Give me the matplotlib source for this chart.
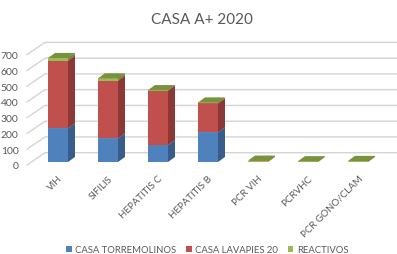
import matplotlib
matplotlib.use("Agg")
import matplotlib.pyplot as plt
from matplotlib.patches import Polygon, Patch

categories = ["VIH", "SIFILIS", "HEPATITIS C", "HEPATITIS B",
              "PCR VIH", "PCRVHC", "PCR GONO/CLAM"]
torremolinos = [214, 150, 108, 188, 0, 0, 0]
lavapies = [429, 366, 345, 184, 3, 1, 2]
reactivos = [17, 15, 3, 6, 6, 4, 5]

series_names = ["CASA TORREMOLINOS", "CASA LAVAPIES 20", "REACTIVOS"]
front_colors = ["#4F81BD", "#C0504D", "#9BBB59"]
side_colors = ["#385D8A", "#8C3836", "#71893F"]
top_colors = ["#6A93C9", "#CD6A67", "#77933C"]

plt.rcParams["font.family"] = ["Lato", "DejaVu Sans"]

fig = plt.figure(figsize=(3.97, 2.55), dpi=100)
# axes box: front plane from x=27px to the right edge, y=40px..170px from top
ax = fig.add_axes([27 / 397, 85 / 255, 370 / 397, 130 / 255])
ax.set_xlim(-0.62, 6.78)
ax.set_ylim(-25.4, 799.5)

# perspective offsets (data units)
wall_dx, wall_dy = 0.36, 78
bar_dx, bar_dy = 0.14, 32
bar_base = 19
half_w = 0.2

grid_color = "#D4D4D4"
for v in range(0, 701, 100):
    ax.plot([-0.62, -0.62 + wall_dx, 6.78], [v, v + wall_dy, v + wall_dy],
            color=grid_color, lw=1.0, zorder=1, clip_on=False)

series = [torremolinos, lavapies, reactivos]
for i in range(len(categories)):
    bottom = bar_base
    for s, vals in enumerate(series):
        h = vals[i]
        if h <= 0:
            continue
        y0, y1 = bottom, bottom + h
        x0, x1 = i - half_w, i + half_w
        ax.add_patch(Polygon([(x0, y0), (x1, y0), (x1, y1), (x0, y1)],
                             closed=True, fc=front_colors[s], ec="none", zorder=3))
        ax.add_patch(Polygon([(x1, y0), (x1 + bar_dx, y0 + bar_dy),
                              (x1 + bar_dx, y1 + bar_dy), (x1, y1)],
                             closed=True, fc=side_colors[s], ec="none", zorder=3))
        ax.add_patch(Polygon([(x0, y1), (x1, y1), (x1 + bar_dx, y1 + bar_dy),
                              (x0 + bar_dx, y1 + bar_dy)],
                             closed=True, fc=top_colors[s], ec="none", zorder=3))
        bottom = y1

for sp in ax.spines.values():
    sp.set_visible(False)

ax.set_yticks(range(0, 701, 100))
ax.tick_params(axis="y", length=0, pad=6, labelsize=7.5, labelcolor="#595959")
ax.set_xticks(range(len(categories)))
ax.set_xticklabels(categories, rotation=45, ha="right", rotation_mode="anchor",
                   fontsize=7, color="#595959")
ax.tick_params(axis="x", length=0, pad=3)

fig.text(0.508, 0.922, "CASA A+ 2020", ha="center", va="center",
         fontsize=11, color="#595959")

handles = [Patch(fc=c, ec="none") for c in front_colors]
fig.legend(handles, series_names, loc="center", bbox_to_anchor=(0.522, 0.018),
           ncol=3, frameon=False, fontsize=6.8, handlelength=0.6,
           handleheight=0.6, handletextpad=0.4, columnspacing=1.0,
           labelcolor="#595959")

plt.savefig("out.png", dpi=100)
